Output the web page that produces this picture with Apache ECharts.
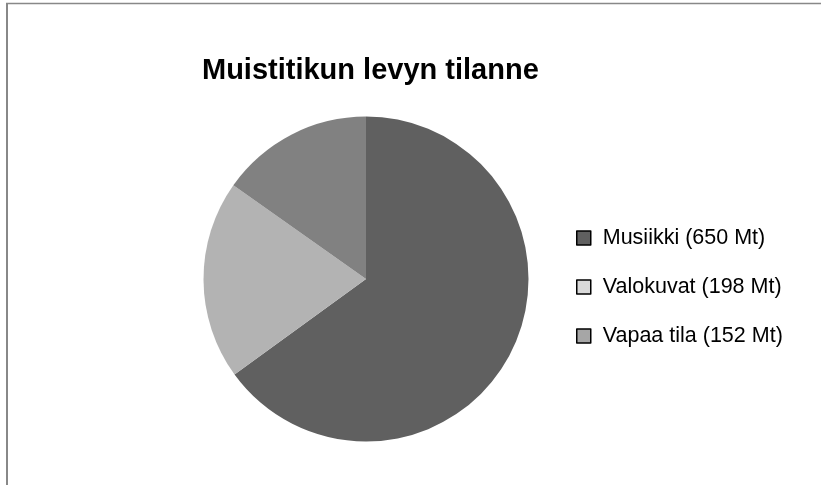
<!DOCTYPE html>
<html><head><meta charset="utf-8">
<script src="https://cdn.jsdelivr.net/npm/echarts@6/dist/echarts.min.js"></script>
<style>html,body{margin:0;padding:0;background:#fff}#c{width:821px;height:485px}</style>
</head><body><div id="c"></div>
<script>
const titleText = 'Muistitikun levyn tilanne';
const categories = ['Musiikki (650 Mt)', 'Valokuvat (198 Mt)', 'Vapaa tila (152 Mt)'];
const values = [650, 198, 152];
const sliceColors = ['#606060', '#b3b3b3', '#818181'];
const legendColors = ['#606060', '#d9d9d9', '#a6a6a6'];

const chart = echarts.init(document.getElementById('c'), null, {renderer: 'canvas'});
chart.setOption({
  animation: false,
  backgroundColor: '#fff',
  title: {
    text: titleText, left: 197, top: 51,
    textStyle: {fontFamily: 'Liberation Sans, Arial', fontWeight: 'bold', fontSize: 29, color: '#000'}
  },
  legend: {
    orient: 'vertical', left: 571, top: 222, itemGap: 27,
    itemWidth: 14, itemHeight: 14, icon: 'rect',
    textStyle: {fontFamily: 'Liberation Sans, Arial', fontSize: 21.5, color: '#000', padding: [0,0,0,7]},
    data: categories.map((n, i) => ({name: n, itemStyle: {color: legendColors[i], borderColor: '#000', borderWidth: 1.5}}))
  },
  graphic: [
    {type: 'line', shape: {x1: 6, y1: 3.5, x2: 821, y2: 3.5}, style: {stroke: '#888', lineWidth: 1.5}, silent: true},
    {type: 'line', shape: {x1: 7, y1: 3, x2: 7, y2: 485}, style: {stroke: '#888', lineWidth: 2}, silent: true}
  ],
  series: [{
    type: 'pie', center: [366, 279], radius: 162.5, startAngle: 90, clockwise: true,
    label: {show: false}, labelLine: {show: false}, silent: true,
    itemStyle: {borderWidth: 0},
    data: categories.map((n, i) => ({name: n, value: values[i], itemStyle: {color: sliceColors[i]}}))
  }]
});
</script></body></html>
